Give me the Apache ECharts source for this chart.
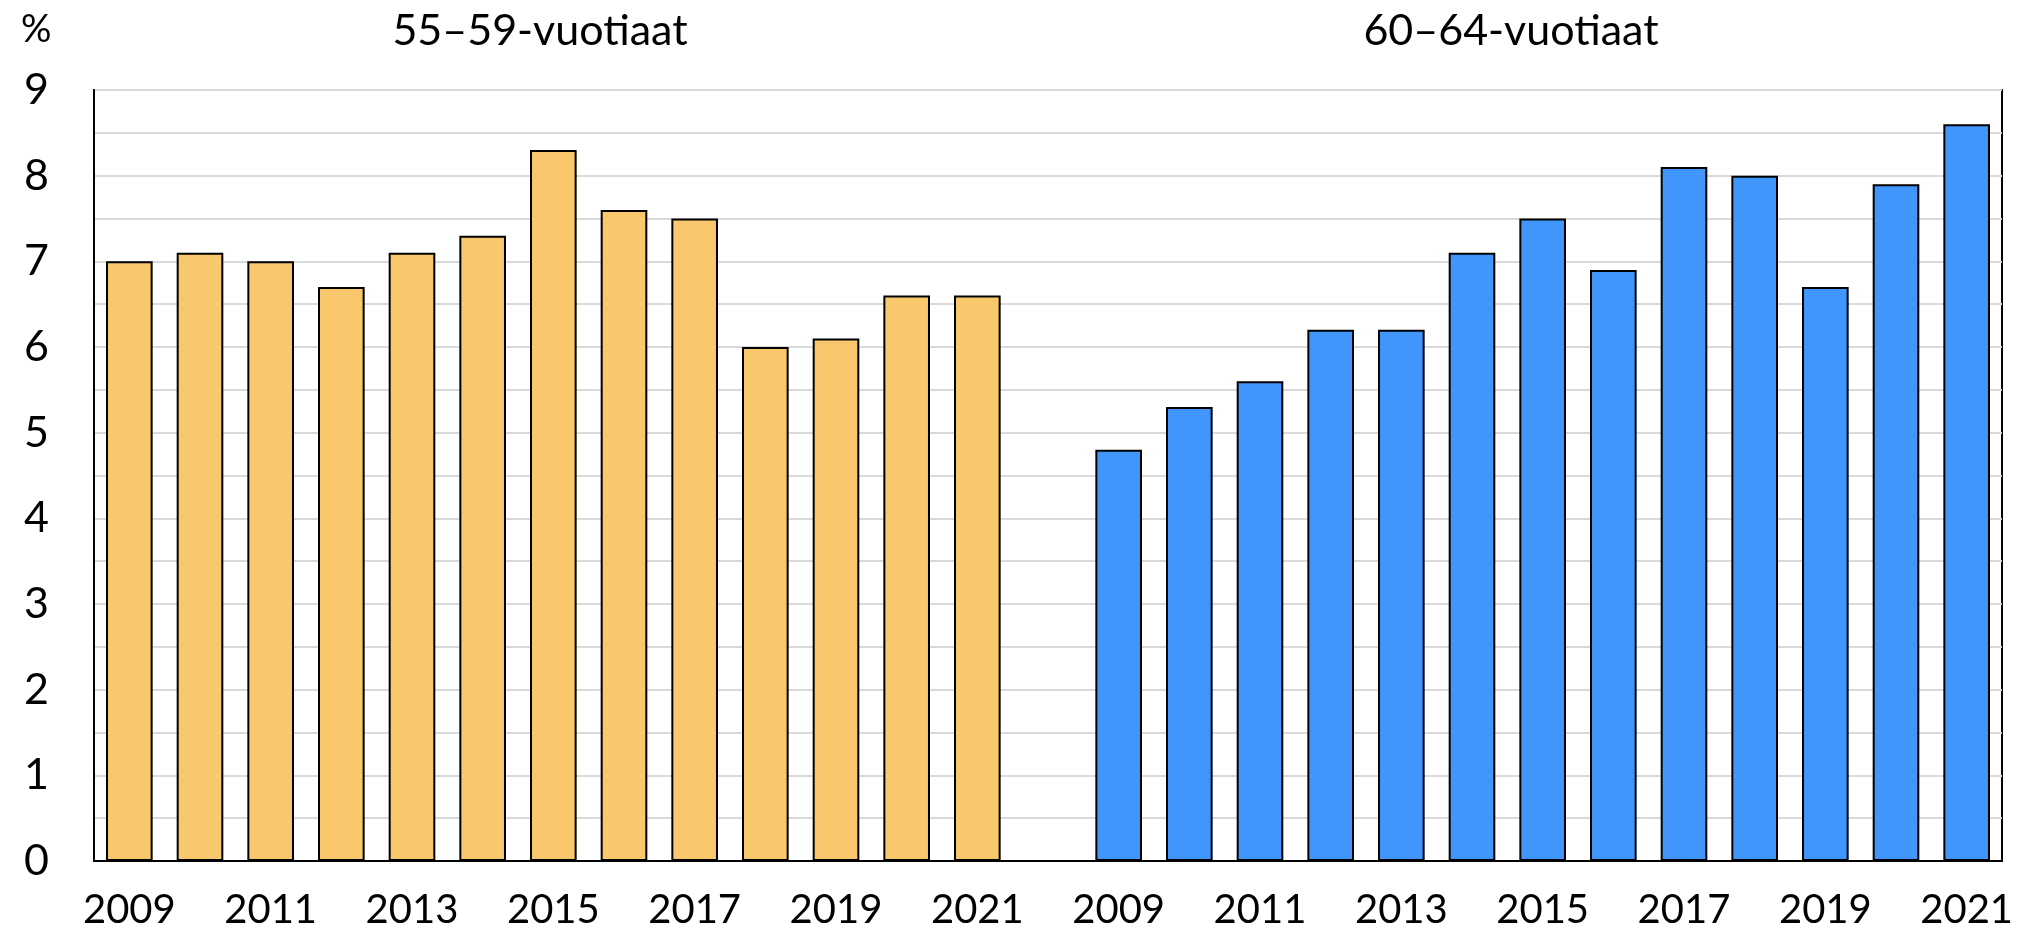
<!DOCTYPE html>
<html>
<head>
    <meta charset="UTF-8">
    <title>55–59 ja 60–64-vuotiaat</title>
    <script src="https://cdn.jsdelivr.net/npm/echarts@6/dist/echarts.min.js"></script>
    <style>
        html, body { margin: 0; padding: 0; background: #fff; }
    </style>
</head>
<body>
<div id="main" style="width: 2021px;height:930px;"></div>
<script type="text/javascript">
    // vuodet ja arvot (%)
    var years = ['2009', '2010', '2011', '2012', '2013', '2014', '2015', '2016', '2017', '2018', '2019', '2020', '2021'];
    var age5559 = [7.0, 7.1, 7.0, 6.7, 7.1, 7.3, 8.3, 7.6, 7.5, 6.0, 6.1, 6.6, 6.6];
    var age6064 = [4.8, 5.3, 5.6, 6.2, 6.2, 7.1, 7.5, 6.9, 8.1, 8.0, 6.7, 7.9, 8.6];
    var groupNames = ['55–59-vuotiaat', '60–64-vuotiaat'];

    // kaksi ryhmää samalle akselille, välissä tyhjä paikka
    var cats = years.concat(['']).concat(years);
    var pad = years.map(function () { return null; });
    var leftData = age5559.concat([null]).concat(pad);
    var rightData = pad.concat([null]).concat(age6064);

    var font = 'Lato, "Open Sans", sans-serif';

    echarts.init(document.getElementById('main')).setOption({
        animation: false,
        textStyle: {fontFamily: font},
        title: [
            {text: groupNames[0], left: 535, top: 5, textAlign: 'center',
                textStyle: {fontSize: 43, fontWeight: 'normal', color: '#000', fontFamily: font}},
            {text: groupNames[1], left: 1506, top: 5, textAlign: 'center',
                textStyle: {fontSize: 43, fontWeight: 'normal', color: '#000', fontFamily: font}},
            {text: '%', left: 16, top: 6,
                textStyle: {fontSize: 38, fontWeight: 'normal', color: '#000', fontFamily: font}}
        ],
        grid: {
            left: 94, right: 19, top: 90, bottom: 65,
            show: true, borderColor: '#000', borderWidth: 2, backgroundColor: 'transparent'
        },
        xAxis: {
            type: 'category',
            data: cats,
            axisTick: {show: false},
            axisLine: {lineStyle: {color: '#000', width: 2}},
            axisLabel: {
                interval: 0,
                margin: 29,
                fontSize: 40,
                color: '#000',
                fontFamily: font,
                formatter: function (v) {
                    return (v !== '' && Number(v) % 2 === 1) ? v : '';
                }
            }
        },
        yAxis: {
            type: 'value',
            min: 0, max: 9, interval: 0.5,
            axisLine: {show: true, lineStyle: {color: '#000', width: 2}},
            axisTick: {show: false},
            axisLabel: {
                margin: 45,
                fontSize: 43,
                color: '#000',
                fontFamily: font,
                formatter: function (v) {
                    return v % 1 === 0 ? String(v) : '';
                }
            },
            splitLine: {lineStyle: {color: '#d9d9d9', width: 2}}
        },
        series: [
            {
                name: groupNames[0], type: 'bar', stack: 'all',
                data: leftData, barCategoryGap: '34%',
                itemStyle: {color: '#f9c76c', borderColor: '#000', borderWidth: 2}
            },
            {
                name: groupNames[1], type: 'bar', stack: 'all',
                data: rightData, barCategoryGap: '34%',
                itemStyle: {color: '#4096fb', borderColor: '#000', borderWidth: 2}
            }
        ]
    });
</script>
</body>
</html>
